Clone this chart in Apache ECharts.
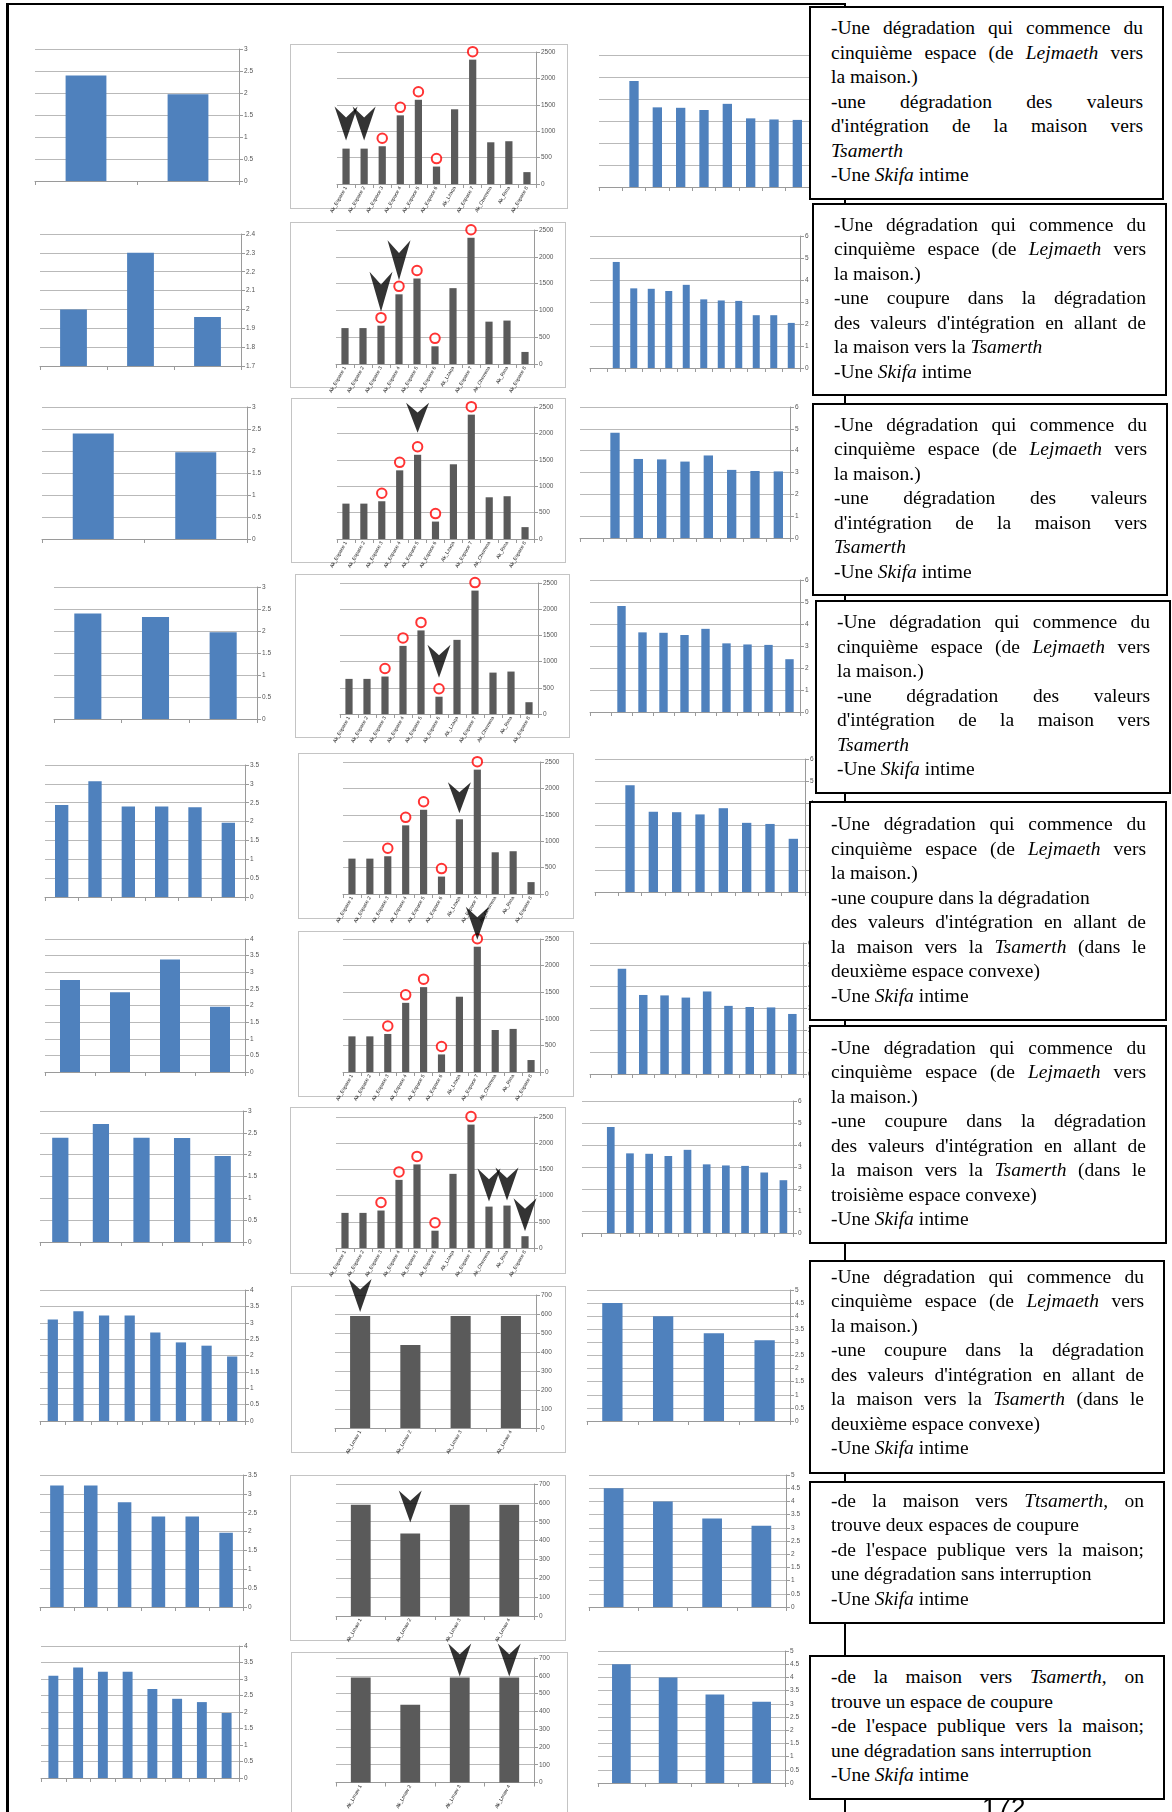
<!DOCTYPE html>
<html><head><meta charset="utf-8">
<script src="https://cdn.jsdelivr.net/npm/echarts@6/dist/echarts.min.js"></script>
<style>
html,body{margin:0;padding:0;background:#fff;}
#page{position:relative;width:1172px;height:1812px;overflow:hidden;background:#fff;}
#chart{position:absolute;left:0;top:0;width:1172px;height:1812px;z-index:2;}
.mbox{position:absolute;border:1px solid #c4c4c4;background:#fff;z-index:1;box-sizing:border-box;}
.tbox{position:absolute;border:2px solid #000;background:#fff;z-index:4;box-sizing:border-box;font-family:'Liberation Serif','Times New Roman',serif;font-size:19.5px;line-height:24.5px;color:#000;padding-left:20px;padding-right:19px;}
.ln{white-space:nowrap;}
.ln.j{white-space:normal;text-align:justify;text-align-last:justify;}
.rule{position:absolute;background:#000;z-index:3;}
#pnum{position:absolute;left:982px;top:1794px;font-family:'Liberation Sans',Arial,sans-serif;font-size:26px;line-height:26px;z-index:5;}
</style></head>
<body><div id="page"><div id="chart"></div></div>
<script>
// ---------- data ----------
const midCats = ['Ak_Espace 1','Ak_Espace 2','Ak_Espace 3','Ak_Espace 4','Ak_Espace 5','Ak_Espace 6','Ak_Lzaqa','Ak_Espace 7','Ak_Chemma','Ak_Rma','Ak_Espace 8'];
const midVals = [670, 670, 715, 1300, 1595, 330, 1415, 2355, 790, 810, 225];
const midCircles = [2, 3, 4, 5, 7];
const mid4Cats = ['Ak_Lmaw 1','Ak_Lmaw 2','Ak_Lmaw 3','Ak_Lmaw 4'];
const mid4Vals = [590, 437, 590, 590];

const left1 = [2.4, 1.97];
const left2 = [2.0, 2.3, 1.96];
const left3 = [2.4, 1.97];
const left4 = [2.4, 2.32, 1.97];
const left5 = [2.44, 3.07, 2.4, 2.4, 2.38, 1.97];
const left6 = [2.77, 2.4, 3.38, 1.96];
const left7 = [2.39, 2.7, 2.39, 2.38, 1.97];
const left8 = [3.1, 3.35, 3.22, 3.22, 2.7, 2.4, 2.3, 1.97];
const left9 = [3.22, 3.22, 2.78, 2.4, 2.4, 1.97];
const left10 = [3.1, 3.35, 3.22, 3.22, 2.7, 2.4, 2.3, 1.97];

const right1 = [4.82, 3.62, 3.6, 3.5, 3.78, 3.12, 3.07, 3.05, 2.4, 2.4, 2.05];
const right2 = [4.82, 3.62, 3.6, 3.5, 3.78, 3.12, 3.07, 3.05, 2.4, 2.4, 2.05];
const right3 = [4.82, 3.62, 3.6, 3.5, 3.78, 3.12, 3.07, 3.05];
const right4 = [4.82, 3.62, 3.6, 3.5, 3.78, 3.12, 3.07, 3.05, 2.4];
const right5 = [4.82, 3.62, 3.6, 3.5, 3.78, 3.12, 3.07, 2.4];
const right6 = [4.82, 3.62, 3.6, 3.5, 3.78, 3.12, 3.07, 3.05, 2.75];
const right7 = [4.82, 3.62, 3.6, 3.5, 3.78, 3.12, 3.07, 3.05, 2.75, 2.4];
const right8 = [4.5, 4.0, 3.35, 3.08];
const right9 = [4.5, 4.0, 3.35, 3.08];
const right10 = [4.5, 4.0, 3.35, 3.08];

// y-axis ticks: [min, max, step]
const leftTicks = [[0,3,0.5],[1.7,2.4,0.1],[0,3,0.5],[0,3,0.5],[0,3.5,0.5],[0,4,0.5],[0,3,0.5],[0,4,0.5],[0,3.5,0.5],[0,4,0.5]];
const midTicks11 = [0, 2500, 500];
const midTicks4 = [0, 700, 100];
const rightTicks6 = [0, 6, 1];
const rightTicks5 = [0, 5, 0.5];

// arrows (category indices in the middle chart of each row)
const arrows = [[0,1],[2,3],[4],[5],[6],[7],[8,9,10],[0],[1],[2,3]];

// text boxes
const txtA = [
 ['-Une dégradation qui commence du',1],
 ['cinquième espace (de <i>Lejmaeth</i> vers',1],
 ['la maison.)',0],
 ['-une dégradation des valeurs',1],
 ["d'intégration de la maison vers",1],
 ['<i>Tsamerth</i>',0],
 ['-Une <i>Skifa</i> intime',0]];
const txtB = [
 ['-Une dégradation qui commence du',1],
 ['cinquième espace (de <i>Lejmaeth</i> vers',1],
 ['la maison.)',0],
 ['-une coupure dans la dégradation',1],
 ["des valeurs d'intégration en allant de",1],
 ['la maison vers la <i>Tsamerth</i>',0],
 ['-Une <i>Skifa</i> intime',0]];
const txtC = [
 ['-Une dégradation qui commence du',1],
 ['cinquième espace (de <i>Lejmaeth</i> vers',1],
 ['la maison.)',0],
 ['-une coupure dans la dégradation',0],
 ["des valeurs d'intégration en allant de",1],
 ['la maison vers la <i>Tsamerth</i> (dans le',1],
 ['deuxième espace convexe)',0],
 ['-Une <i>Skifa</i> intime',0]];
const txtD = [
 ['-Une dégradation qui commence du',1],
 ['cinquième espace (de <i>Lejmaeth</i> vers',1],
 ['la maison.)',0],
 ['-une coupure dans la dégradation',1],
 ["des valeurs d'intégration en allant de",1],
 ['la maison vers la <i>Tsamerth</i> (dans le',1],
 ['troisième espace convexe)',0],
 ['-Une <i>Skifa</i> intime',0]];
const txtE = [
 ['-Une dégradation qui commence du',1],
 ['cinquième espace (de <i>Lejmaeth</i> vers',1],
 ['la maison.)',0],
 ['-une coupure dans la dégradation',1],
 ["des valeurs d'intégration en allant de",1],
 ['la maison vers la <i>Tsamerth</i> (dans le',1],
 ['deuxième espace convexe)',0],
 ['-Une <i>Skifa</i> intime',0]];
const txtF = [
 ['-de la maison vers <i>Ttsamerth</i>, on',1],
 ['trouve deux espaces de coupure',0],
 ["-de l'espace publique vers la maison;",1],
 ['une dégradation sans interruption',0],
 ['-Une <i>Skifa</i> intime',0]];
const txtG = [
 ['-de la maison vers <i>Tsamerth</i>, on',1],
 ['trouve un espace de coupure',0],
 ["-de l'espace publique vers la maison;",1],
 ['une dégradation sans interruption',0],
 ['-Une <i>Skifa</i> intime',0]];
const boxTexts = [txtA, txtB, txtA, txtA, txtC, txtD, txtE, txtF, txtG];

// ---------- layout (pixels) ----------
const L_GRID = [[35,239,49,181],[40,241,234,366],[42,247,407,539],[54,257,587,719],[45,245,765,897],[45,245,939,1072],[40,243,1111,1242],[40,245,1290,1421],[40,243,1475,1607],[41,239,1646,1778]];
const M_BOX = [[290,568,44,209],[290,566,222,388],[291,566,398,563],[295,570,574,738],[298,574,753,919],[298,574,931,1097],[290,566,1107,1274],[291,566,1286,1453],[290,566,1475,1641],[291,568,1652,1840]];
const M_GRID = [[337,536,52,184],[336,534,230,364],[337,534,407,539],[340,538,583,714],[343,540,762,894],[343,540,939,1072],[336,534,1117,1248],[335,536,1295,1428],[336,534,1484,1616],[336,534,1658,1793]];
const R_GRID = [[599,879,55,187],[590,800,236,368],[580,790,407,538],[590,800,580,712],[595,805,759,892],[590,803,943,1074],[582,793,1101,1233],[587,790,1290,1421],[589,786,1475,1607],[598,785,1651,1783]];
const ARROW_GAP = [8,14,22,19,6,7,5,4,11,1];
const ARROW_H = [34,40,30,33,31,33,33,33,32,33];
const T_BOX = [[809,1164,6,200,8],[812,1167,203,396,7.6],[812,1168,403,596,7.6],[815,1171,600,794,8],[809,1167,801,1021,9],[809,1167,1025,1244,8.6],[809,1165,1260,1474,2.5],[809,1165,1481,1624,5.6],[809,1165,1655,1800,8]];

// ---------- build ----------
const page = document.getElementById('page');
function addDiv(cls, css, html){ const d=document.createElement('div'); d.className=cls; Object.assign(d.style, css); if(html) d.innerHTML=html; page.appendChild(d); return d; }

addDiv('rule',{left:'6px',top:'3px',width:'3px',height:'1809px'});
addDiv('rule',{left:'6px',top:'3px',width:'840px',height:'2px'});
addDiv('rule',{left:'844px',top:'3px',width:'2px',height:'1809px'});

M_BOX.forEach(b=>addDiv('mbox',{left:b[0]+'px',top:b[2]+'px',width:(b[1]-b[0])+'px',height:(b[3]-b[2])+'px'}));
T_BOX.forEach((b,i)=>{
  const html = boxTexts[i].map(l=>'<div class="ln'+(l[1]?' j':'')+'">'+l[0]+'</div>').join('');
  addDiv('tbox',{left:b[0]+'px',top:b[2]+'px',width:(b[1]-b[0])+'px',height:(b[3]-b[2])+'px',paddingTop:b[4]+'px'},html);
});
const pn=document.createElement('div'); pn.id='pnum'; pn.textContent='172'; page.appendChild(pn);

const grids=[], xAxes=[], yAxes=[], series=[];
const AX = '#9a9a9a', GL = '#b9b9b9';
function addBarChart(rect, cats, vals, ticks, color, xLabel){
  const gi = grids.length;
  const [x0,x1,y0,y1] = rect;
  grids.push({left:x0, top:y0, width:x1-x0, height:y1-y0});
  xAxes.push({type:'category', gridIndex:gi, data:cats, boundaryGap:true,
    axisLine:{show:true, onZero:false, lineStyle:{color:AX, width:1}},
    axisTick:{show:true, interval:0, length:4, lineStyle:{color:AX}},
    axisLabel: xLabel ? {show:true, interval:0, rotate:60, fontSize:5, color:'#222', margin:3, fontFamily:'Liberation Sans'} : {show:false},
    splitLine:{show:false}});
  yAxes.push({type:'value', gridIndex:gi, position:'right', min:ticks[0], max:ticks[1], interval:ticks[2],
    axisLine:{show:true, lineStyle:{color:AX, width:1}},
    axisTick:{show:true, length:4, lineStyle:{color:AX}},
    axisLabel:{show:true, fontSize:6.5, color:'#555', margin:5, fontFamily:'Liberation Sans',
      formatter:v=>String(Math.round(v*100)/100)},
    splitLine:{show:true, lineStyle:{color:GL, width:1}}});
  series.push({type:'bar', xAxisIndex:gi, yAxisIndex:gi, data:vals, barWidth:'40%', itemStyle:{color}, silent:true});
  return gi;
}
const idxCats = n => Array.from({length:n}, (_, i) => String(i+1));
const leftVals = [left1,left2,left3,left4,left5,left6,left7,left8,left9,left10];
const rightVals = [right1,right2,right3,right4,right5,right6,right7,right8,right9,right10];
const BLUE = '#4f81bd', GRAY = '#5a5a5a';
for (let r = 0; r < 10; r++) {
  addBarChart(L_GRID[r], idxCats(leftVals[r].length), leftVals[r], leftTicks[r], BLUE, false);
  const four = r >= 7;
  const mv = four ? mid4Vals : midVals;
  const gi = addBarChart(M_GRID[r], four ? mid4Cats : midCats, mv, four ? midTicks4 : midTicks11, GRAY, true);
  if (!four) {
    series.push({type:'scatter', xAxisIndex:gi, yAxisIndex:gi, clip:false, z:5, silent:true,
      data: midCircles.map(i => [i, mv[i]]), symbol:'circle', symbolSize:9.5, symbolOffset:[0,-8],
      itemStyle:{color:'#fff', borderColor:'#ff0000', borderWidth:2}});
  }
  const h = ARROW_H[r];
  series.push({type:'scatter', xAxisIndex:gi, yAxisIndex:gi, clip:false, z:6, silent:true,
    data: arrows[r].map(i => [i, mv[i]]), symbol:'path://M0,0 L50,32 L100,0 L50,100 Z',
    symbolSize:[23,h], symbolOffset:[0, -(ARROW_GAP[r] + h/2)], itemStyle:{color:'#000'}});
  const rv = rightVals[r];
  const rcats = four ? idxCats(rv.length) : [''].concat(idxCats(rv.length));
  const rdata = four ? rv : ['-'].concat(rv);
  addBarChart(R_GRID[r], rcats, rdata, four ? rightTicks5 : rightTicks6, BLUE, false);
}

const chart = echarts.init(document.getElementById('chart'), null, {renderer:'canvas'});
chart.setOption({animation:false, backgroundColor:'transparent', grid:grids, xAxis:xAxes, yAxis:yAxes, series:series});
</script>
</body></html>
